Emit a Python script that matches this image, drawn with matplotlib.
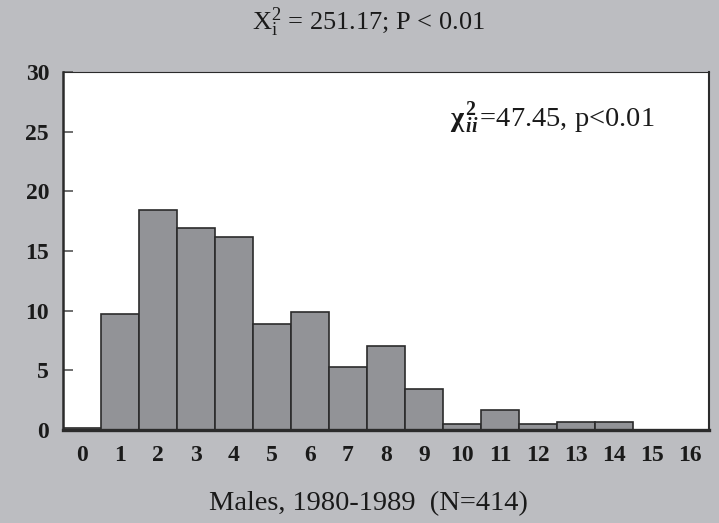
import matplotlib.pyplot as plt
import numpy as np

# percent of cases per count class
classes = list(range(17))
percents = [0.2, 9.7, 18.4, 16.9, 16.2, 8.9, 9.9, 5.3, 7.0, 3.4,
            0.5, 1.7, 0.5, 0.7, 0.7, 0.0, 0.0]
yticks = [0, 5, 10, 15, 20, 25, 30]

plt.rcParams['mathtext.fontset'] = 'custom'
plt.rcParams['mathtext.rm'] = 'Liberation Serif'
plt.rcParams['mathtext.it'] = 'Liberation Serif:italic'
plt.rcParams['mathtext.bf'] = 'Liberation Serif:bold'
plt.rcParams['mathtext.bfit'] = 'Liberation Serif:bold:italic'

bg = '#bcbdc1'
fig = plt.figure(figsize=(7.19, 5.23), dpi=100, facecolor=bg)
ax = fig.add_axes([63/719, 93/523, 646/719, 358/523])

ax.bar(classes, percents, width=1.0, color='#929397', edgecolor='#2b2b2b', linewidth=1.2)
ax.set_xlim(-0.5, 16.5)
ax.set_ylim(0, 30)
ax.set_yticks(yticks)
ax.set_xticks(classes)
ax.tick_params(axis='y', direction='in', length=7, width=1.2, color='#555555', pad=10)
ax.tick_params(axis='x', length=0, pad=11)
for lab in ax.get_xticklabels() + ax.get_yticklabels():
    lab.set_fontfamily('Liberation Serif')
    lab.set_fontweight('bold')
    lab.set_fontsize(17)
    lab.set_color('#1a1a1a')

ax.spines['left'].set_linewidth(1.8)
ax.spines['bottom'].set_linewidth(2.4)
ax.spines['top'].set_linewidth(0.8)
ax.spines['right'].set_linewidth(1.5)
for s in ax.spines.values():
    s.set_color('#2b2b2b')

ax.text(0.757, 0.87,
        r'$\mathbf{\chi}\hspace{0.12}{}^{\mathbf{2}}_{\boldsymbol{ii}}\hspace{0.1}$=47.45, p<0.01',
        transform=ax.transAxes, ha='center', va='center', fontsize=20.5,
        family='Liberation Serif', color='#1a1a1a')

fig.text(368/719, 1 - 22/523, r'$\mathrm{X}^{2}_{\mathrm{i}}$ = 251.17; P < 0.01',
         ha='center', va='center', fontsize=19, family='Liberation Serif', color='#1a1a1a')
fig.text(368/719, 1 - 504/523, 'Males, 1980-1989  (N=414)',
         ha='center', va='center', fontsize=20.5, family='Liberation Serif', color='#1a1a1a')

plt.savefig('out.png', dpi=100, facecolor=bg)
